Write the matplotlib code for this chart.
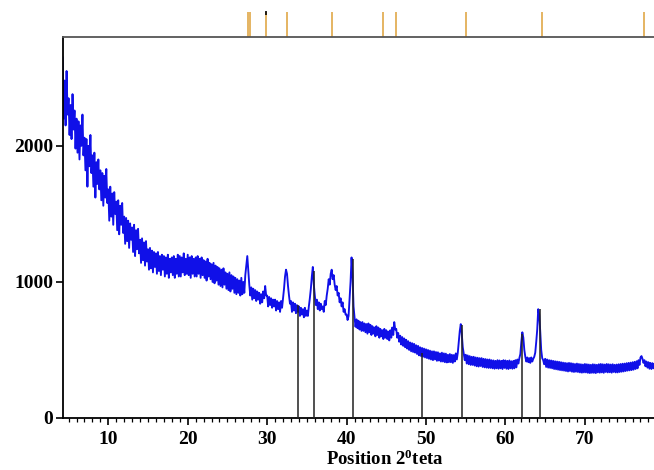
import numpy as np
import matplotlib
matplotlib.use("Agg")
import matplotlib.pyplot as plt

# XRD pattern (step 0.125 deg, starting at 4.25)
two_theta_start = 4.25
two_theta_step = 0.125
intensity = [
    2650, 2200, 2480, 2150, 2550, 2230,
    2350, 2080, 2300, 2050, 2380, 2120, 2260, 1980,   # 5
    2200, 1950, 2180, 1900, 2150, 2000, 2230, 1930,   # 6
    2060, 1820, 2050, 1700, 2000, 1850, 2080, 1800,   # 7
    1930, 1700, 1950, 1620, 1880, 1720, 1900, 1680,   # 8
    1820, 1600, 1800, 1560, 1780, 1620, 1830, 1580,   # 9
    1680, 1450, 1700, 1480, 1650, 1420, 1660, 1500,   # 10
    1590, 1380, 1600, 1350, 1560, 1420, 1580, 1360,   # 11
    1480, 1280, 1470, 1300, 1450, 1250, 1430, 1310,   # 12
    1400, 1220, 1420, 1190, 1380, 1240, 1390, 1210,   # 13
    1310, 1140, 1320, 1160, 1290, 1120, 1300, 1150,   # 14
    1240, 1090, 1250, 1100, 1230, 1070, 1220, 1110,   # 15
    1210, 1060, 1220, 1080, 1190, 1050, 1200, 1090,   # 16
    1190, 1040, 1180, 1060, 1200, 1030, 1170, 1070,   # 17
    1180, 1050, 1190, 1030, 1170, 1060, 1200, 1040,   # 18
    1190, 1040, 1180, 1070, 1210, 1050, 1170, 1060,   # 19
    1200, 1050, 1180, 1030, 1190, 1060, 1170, 1040,   # 20
    1180, 1040, 1190, 1060, 1170, 1030, 1180, 1050,   # 21
    1160, 1030, 1150, 1010, 1170, 1040, 1140, 1020,   # 22
    1130, 1000, 1140, 990, 1120, 1010, 1110, 980,     # 23
    1100, 970, 1090, 960, 1100, 980, 1070, 950,       # 24
    1060, 940, 1070, 930, 1050, 950, 1040, 920,       # 25
    1030, 910, 1020, 920, 1010, 900, 1030, 910,       # 26
    1000, 920, 1050, 1120, 1190, 1080, 980, 900,      # 27
    960, 870, 950, 880, 940, 860, 930, 870,           # 28
    920, 840, 910, 850, 930, 880, 970, 900,           # 29
    900, 820, 890, 830, 880, 810, 870, 820,           # 30
    870, 790, 860, 800, 850, 780, 860, 810,           # 31
    880, 950, 1040, 1090, 1060, 970, 900, 840,        # 32
    860, 780, 850, 790, 840, 770, 830, 780,           # 33
    820, 750, 810, 760, 800, 740, 810, 750,           # 34
    790, 750, 820, 880, 950, 1040, 1110, 980,         # 35
    900, 830, 870, 800, 850, 790, 840, 800,           # 36
    820, 780, 860, 830, 900, 950, 1020, 980,          # 37
    1060, 1090, 1020, 1050, 980, 940, 970, 900,       # 38
    920, 850, 880, 820, 850, 780, 800, 760,           # 39
    760, 720, 750, 880, 1000, 1180, 1050, 820,        # 40
    740, 670, 725, 660, 715, 650, 705, 640,           # 41
    705, 640, 695, 630, 690, 620, 695, 630,           # 42
    685, 610, 675, 620, 665, 600, 675, 610,           # 43
    665, 590, 655, 600, 645, 580, 655, 590,           # 44
    645, 580, 635, 570, 645, 590, 665, 610,           # 45
    705, 650, 655, 590, 625, 560, 605, 540,           # 46
    595, 530, 585, 520, 575, 510, 565, 500,           # 47
    555, 490, 550, 485, 545, 480, 535, 470,           # 48
    530, 460, 520, 455, 515, 450, 510, 445,           # 49
    505, 440, 500, 435, 495, 430, 490, 425,           # 50
    490, 430, 485, 420, 483, 422, 475, 415,           # 51
    480, 415, 475, 410, 473, 408, 465, 410,           # 52
    470, 410, 465, 405, 463, 415, 475, 430,           # 53
    480, 560, 640, 690, 620, 520, 470, 425,           # 54
    465, 400, 460, 395, 455, 390, 450, 390,           # 55
    450, 385, 445, 380, 443, 378, 440, 382,           # 56
    440, 375, 435, 372, 433, 370, 430, 368,           # 57
    430, 368, 425, 365, 423, 362, 420, 365,           # 58
    425, 362, 423, 365, 420, 360, 425, 368,           # 59
    423, 362, 420, 360, 423, 365, 417, 362,           # 60
    420, 365, 425, 372, 430, 400, 440, 470,           # 61
    560, 630, 590, 500, 450, 415, 445, 410,           # 62
    440, 405, 445, 415, 435, 450, 480, 560,           # 63
    650, 800, 760, 640, 500, 440, 425, 395,           # 64
    435, 375, 430, 370, 425, 368, 423, 365,           # 65
    420, 360, 417, 358, 415, 355, 413, 352,           # 66
    410, 350, 407, 348, 405, 345, 403, 342,           # 67
    405, 345, 403, 340, 400, 338, 397, 340,           # 68
    400, 338, 397, 335, 395, 333, 393, 335,           # 69
    397, 335, 395, 332, 393, 330, 391, 332,           # 70
    395, 332, 393, 330, 391, 335, 395, 333,           # 71
    397, 335, 395, 332, 393, 338, 397, 335,           # 72
    395, 336, 393, 333, 395, 338, 391, 335,           # 73
    393, 335, 395, 338, 397, 340, 399, 342,           # 74
    400, 345, 403, 348, 405, 350, 407, 352,           # 75
    410, 355, 413, 360, 417, 365, 425, 390,           # 76
    445, 455, 435, 405, 425, 380, 415, 370,           # 77
    410, 362, 405, 360, 403, 365, 400, 362,           # 78
]
two_theta = two_theta_start + two_theta_step * np.arange(len(intensity))

# reference pattern sticks (black) and phase markers on top (orange)
ref_pos = [33.9, 35.9, 40.8, 49.5, 54.5, 62.1, 64.3]
ref_height = [830, 1080, 1170, 480, 680, 620, 800]
marker_pos = [27.6, 27.85, 29.9, 32.5, 38.2, 44.6, 46.2, 55.0, 64.6, 77.45]

plt.rcParams['font.family'] = ['Liberation Serif', 'DejaVu Serif']
plt.rcParams['font.weight'] = 'bold'
plt.rcParams['mathtext.fontset'] = 'custom'
plt.rcParams['mathtext.rm'] = 'Liberation Serif'
plt.rcParams['mathtext.default'] = 'regular'

fig = plt.figure(figsize=(6.54, 4.70), dpi=100)
ax = fig.add_axes([63 / 654, 1 - 418 / 470, 1 - 63 / 654, (418 - 37) / 470])

ax.plot(two_theta, intensity, color="#1010e8", lw=1.35, zorder=2)
ax.vlines(ref_pos, 0, ref_height, color="#202020", lw=1.1, zorder=3)

trans = ax.get_xaxis_transform()
ax.vlines(marker_pos, 1.0, 1.066, color="#e0a848", lw=1.2,
          transform=trans, clip_on=False)
ax.vlines([29.9], 1.058, 1.068, color="black", lw=1.2,
          transform=trans, clip_on=False)

ax.set_xlim(4.3, 78.7)
ax.set_ylim(0, 2800)
ax.set_xticks([10, 20, 30, 40, 50, 60, 70])
ax.set_xticks(np.arange(5, 79, 1), minor=True)
ax.set_yticks([0, 1000, 2000])

ax.spines['right'].set_visible(False)
for s in ['left', 'bottom', 'top']:
    ax.spines[s].set_linewidth(1.3)
ax.spines['top'].set_color("#555555")

ax.tick_params(axis='x', which='major', length=5, width=1.2, pad=4,
               labelsize=14)
ax.tick_params(axis='x', which='minor', length=3, width=0.9)
ax.tick_params(axis='y', length=5, width=1.2, pad=2, labelsize=14)
for lab in ax.get_xticklabels() + ax.get_yticklabels():
    lab.set_fontweight('bold')

ax.set_xlabel(r"Position 2$^{\mathrm{0}}$teta", fontsize=13.5,
              fontweight='bold', labelpad=0)
ax.xaxis.set_label_coords(0.545, -0.084)

fig.savefig("out.png", dpi=100)
